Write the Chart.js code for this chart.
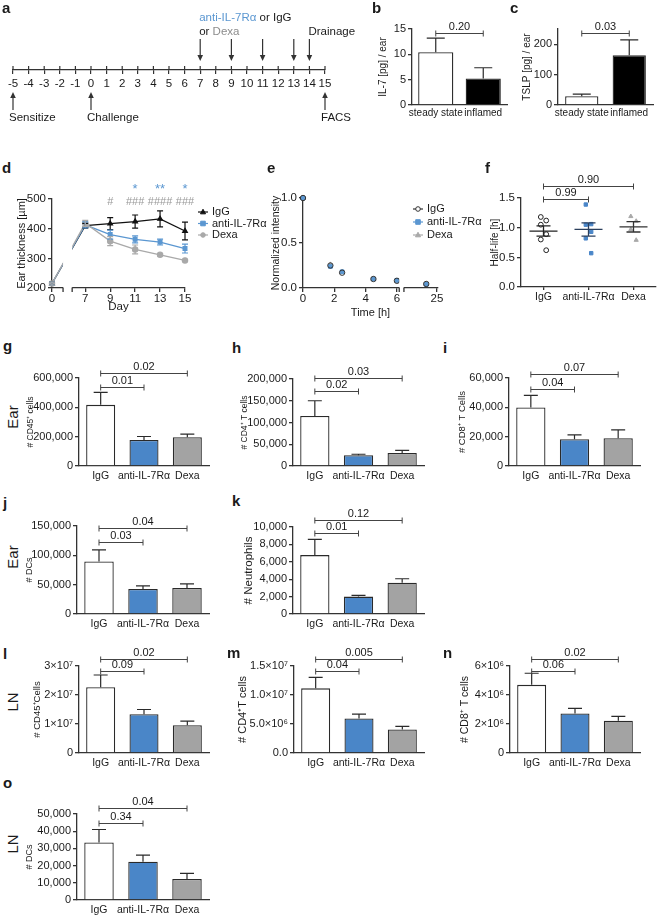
<!DOCTYPE html>
<html>
<head>
<meta charset="utf-8">
<script src="https://cdn.jsdelivr.net/npm/chart.js@4.4.1/dist/chart.umd.min.js"></script>
<style>
  body { margin: 0; background: #fff; width: 658px; height: 916px; position: relative; overflow: hidden;
         font-family: 'Liberation Sans', Arial, Helvetica, sans-serif; color: #1a1a1a; }
  .letter { position: absolute; font-weight: bold; font-size: 15px; line-height: 15px; }
  .row { position: absolute; font-size: 15px; white-space: nowrap; transform: translate(-50%, -50%) rotate(-90deg); }
</style>
</head>
<body>
<script>
// ---- data ----
// a: protocol
const treatDays = [7, 9, 11, 13];
const drainDay = 14;
const eventDays = [-5, 0, 15];
const eventNames = ['Sensitize', 'Challenge', 'FACS'];

// b, c: cytokines per ear
const ssGroups = ['steady state', 'inflamed'];
const il7Mean = [10.4, 5.25];
const il7Sem = [2.8, 2.1];
const il7P = ['0.20'];
const tslpMean = [29, 164];
const tslpSem = [7, 50];
const tslpP = ['0.03'];

// d: ear thickness
const earDays = [0, 7, 9, 11, 13, 15];
const earIgG = [215, 410, 417, 424, 433, 392];
const earIgGSem = [5, 8, 20, 22, 27, 30];
const earAnti = [215, 413, 380, 364, 355, 333];
const earAntiSem = [5, 10, 15, 12, 10, 15];
const earDexa = [215, 418, 358, 330, 312, 293];
const earDexaSem = [5, 10, 15, 15, 4, 3];
const earStars = ['', '', '', '*', '**', '*'];
const earHash = ['', '', '#', '###', '####', '###'];

// e: normalized intensity
const hours = [0, 1.75, 2.5, 4.5, 6, 24];
const hourTicks = [0, 2, 4, 6, 25];
const intIgG = [1.0, 0.25, 0.17, 0.10, 0.08, 0.045];
const intAnti = [1.0, 0.24, 0.18, 0.10, 0.085, 0.04];
const intDexa = [1.0, 0.26, 0.18, 0.10, 0.08, 0.045];

// f: half-life
const groups = ['IgG', 'anti-IL-7Rα', 'Dexa'];
const hlIgG = [1.18, 1.12, 1.05, 0.89, 0.80, 0.62];
const hlAnti = [1.39, 1.06, 1.05, 0.93, 0.82, 0.57];
const hlDexa = [1.19, 1.11, 0.97, 0.79];
const hlP = ['0.99', '0.90'];

// g-o: cell counts
const cd45Ear = [417000, 178000, 196000], cd45EarSem = [85000, 23000, 21000], cd45EarP = ['0.01', '0.02'];
const cd4Ear = [115000, 24700, 30100], cd4EarSem = [35000, 2300, 6000], cd4EarP = ['0.02', '0.03'];
const cd8Ear = [39900, 18250, 18900], cd8EarSem = [8200, 3000, 5700], cd8EarP = ['0.04', '0.07'];
const dcEar = [89400, 42500, 44200], dcEarSem = [19800, 5600, 7300], dcEarP = ['0.03', '0.04'];
const neuEar = [6770, 2000, 3600], neuEarSem = [1800, 150, 450], neuEarP = ['0.01', '0.12'];
const cd45LN = [2.27e7, 1.34e7, 0.96e7], cd45LNSem = [0.42e7, 0.16e7, 0.14e7], cd45LNP = ['0.09', '0.02'];
const cd4LN = [1.115e7, 5.95e6, 4.05e6], cd4LNSem = [1.9e6, 0.75e6, 0.55e6], cd4LNP = ['0.04', '0.005'];
const cd8LN = [4.7e6, 2.73e6, 2.22e6], cd8LNSem = [0.8e6, 0.35e6, 0.3e6], cd8LNP = ['0.06', '0.02'];
const dcLN = [33400, 22200, 12200], dcLNSem = [7600, 3900, 3300], dcLNP = ['0.34', '0.04'];

// ---- style ----
const AX = '#333', TXT = '#1a1a1a';
const BLUE = '#4a86c8', GREY = '#a3a3a3', LBLUE = '#5b97d1', LGREY = '#a9a9a9';
const FONT = "'Liberation Sans', Arial, Helvetica, sans-serif";
Chart.defaults.font.family = FONT;
Chart.defaults.font.size = 11;
Chart.defaults.color = TXT;

// broken axes
const dayPos = d => d >= 7 ? d : 4.333 + d * 0.1;
const hourPos = h => h <= 6 ? h : 6.51 + (h - 22) * 0.683;
const commas = v => String(v).replace(/\B(?=(\d{3})+(?!\d))/g, ',');

// ---- plugins ----
const errPlugin = {
  id: 'errbars',
  afterDatasetsDraw(chart, args, o) {
    const ctx = chart.ctx, y = chart.scales.y;
    chart.data.datasets.forEach((ds, di) => {
      if (!ds.sem) return;
      const meta = chart.getDatasetMeta(di);
      ctx.save();
      ctx.strokeStyle = ds.errColor || ds.borderColor;
      ctx.lineWidth = 1.2;
      meta.data.forEach((el, i) => {
        const v = typeof ds.data[i] === 'object' ? ds.data[i].y : ds.data[i];
        const top = y.getPixelForValue(v + ds.sem[i]);
        const bot = o.both ? y.getPixelForValue(v - ds.sem[i]) : el.y;
        const cw = o.cap || 7;
        ctx.beginPath();
        ctx.moveTo(el.x, bot); ctx.lineTo(el.x, top);
        ctx.moveTo(el.x - cw, top); ctx.lineTo(el.x + cw, top);
        if (o.both) { ctx.moveTo(el.x - cw, bot); ctx.lineTo(el.x + cw, bot); }
        ctx.stroke();
      });
      ctx.restore();
    });
  }
};

const bracketPlugin = {
  id: 'brackets',
  afterDraw(chart, args, o) {
    const ctx = chart.ctx, x = chart.scales.x, top = chart.chartArea.top;
    ctx.save();
    ctx.strokeStyle = '#444'; ctx.fillStyle = TXT; ctx.lineWidth = 1;
    ctx.font = '11px ' + FONT; ctx.textAlign = 'center'; ctx.textBaseline = 'middle';
    (o.items || []).forEach(it => {
      const xa = x.getPixelForValue(it.a), xb = x.getPixelForValue(it.b), yy = Math.round(top + it.dy) + 0.5;
      ctx.beginPath();
      ctx.moveTo(xa, yy); ctx.lineTo(xb, yy);
      ctx.moveTo(xa, yy - 3); ctx.lineTo(xa, yy + 3);
      ctx.moveTo(xb, yy - 3); ctx.lineTo(xb, yy + 3);
      ctx.stroke();
      ctx.fillText(it.text, (xa + xb) / 2, yy - 7);
    });
    ctx.restore();
  }
};

const breakPlugin = {
  id: 'xbreak',
  afterDatasetsDraw(chart, args, o) {
    if (o.from === undefined) return;
    const ctx = chart.ctx, x = chart.scales.x, ca = chart.chartArea;
    const a = x.getPixelForValue(o.from), b = x.getPixelForValue(o.to);
    ctx.save();
    ctx.fillStyle = '#fff';
    ctx.fillRect(a, ca.top, b - a, ca.bottom - ca.top + 2);
    ctx.strokeStyle = AX; ctx.lineWidth = 1.3;
    ctx.beginPath();
    [a, b].forEach(p => { ctx.moveTo(p, ca.bottom - 0.5); ctx.lineTo(p, ca.bottom + 4); });
    ctx.stroke();
    ctx.restore();
  }
};

const marksPlugin = {
  id: 'marks',
  afterDraw(chart, args, o) {
    const ctx = chart.ctx, x = chart.scales.x, top = chart.chartArea.top;
    ctx.save();
    ctx.textAlign = 'center'; ctx.textBaseline = 'middle';
    (o.rows || []).forEach(r => {
      ctx.fillStyle = r.color;
      ctx.font = r.size + 'px ' + FONT;
      r.texts.forEach((t, i) => { if (t) ctx.fillText(t, x.getPixelForValue(o.xs[i]), top + r.dy); });
    });
    ctx.restore();
  }
};

function marker(ctx, style, cx, cy, r, fill, stroke) {
  ctx.beginPath();
  if (style === 'rect') ctx.rect(cx - r, cy - r, 2 * r, 2 * r);
  else if (style === 'triangle') { ctx.moveTo(cx, cy - r * 1.2); ctx.lineTo(cx + r * 1.1, cy + r * 0.8); ctx.lineTo(cx - r * 1.1, cy + r * 0.8); ctx.closePath(); }
  else ctx.arc(cx, cy, r, 0, Math.PI * 2);
  ctx.fillStyle = fill; ctx.fill();
  ctx.strokeStyle = stroke; ctx.lineWidth = 1; ctx.stroke();
}

const legendPlugin = {
  id: 'lineLegend',
  afterDraw(chart, args, o) {
    if (o.dx === undefined) return;
    const ctx = chart.ctx, ca = chart.chartArea;
    ctx.save();
    ctx.font = '11px ' + FONT; ctx.textBaseline = 'middle'; ctx.textAlign = 'left';
    chart.data.datasets.forEach((ds, i) => {
      const x0 = ca.left + o.dx, y = ca.top + o.dy + i * o.step;
      ctx.strokeStyle = ds.borderColor; ctx.lineWidth = 1.2;
      ctx.beginPath(); ctx.moveTo(x0, y); ctx.lineTo(x0 + 10, y); ctx.stroke();
      marker(ctx, ds.pointStyle, x0 + 5, y, 2.3, ds.legendFill || ds.pointBackgroundColor, ds.borderColor);
      ctx.fillStyle = TXT;
      ctx.fillText(ds.label, x0 + 14, y);
    });
    ctx.restore();
  }
};

const meanPlugin = {
  id: 'meanSem',
  afterDatasetsDraw(chart) {
    const ctx = chart.ctx, x = chart.scales.x, y = chart.scales.y;
    chart.data.datasets.forEach((ds, gi) => {
      const v = ds.data.map(p => p.y), n = v.length;
      const m = v.reduce((a, b) => a + b, 0) / n;
      const se = Math.sqrt(v.reduce((a, b) => a + (b - m) ** 2, 0) / (n - 1)) / Math.sqrt(n);
      const px = x.getPixelForValue(gi);
      const ym = y.getPixelForValue(m), yt = y.getPixelForValue(m + se), yb = y.getPixelForValue(m - se);
      ctx.save();
      ctx.strokeStyle = ds.meanColor; ctx.lineWidth = 1.3;
      ctx.beginPath();
      ctx.moveTo(px - 14, ym); ctx.lineTo(px + 14, ym);
      ctx.moveTo(px, yt); ctx.lineTo(px, yb);
      ctx.moveTo(px - 7, yt); ctx.lineTo(px + 7, yt);
      ctx.moveTo(px - 7, yb); ctx.lineTo(px + 7, yb);
      ctx.stroke();
      ctx.restore();
    });
  }
};

const timelinePlugin = {
  id: 'timeline',
  afterDraw(chart) {
    const ctx = chart.ctx, x = chart.scales.x, base = chart.chartArea.bottom;
    ctx.save();
    ctx.strokeStyle = AX; ctx.fillStyle = AX; ctx.lineWidth = 1.2;
    x.ticks.forEach(t => {
      const p = x.getPixelForValue(t.value);
      ctx.beginPath(); ctx.moveTo(p, base); ctx.lineTo(p, base - 4); ctx.stroke();
    });
    const arrow = (p, from, tip) => {
      const dir = tip > from ? 1 : -1;
      ctx.beginPath(); ctx.moveTo(p, from); ctx.lineTo(p, tip - dir * 5); ctx.stroke();
      ctx.beginPath(); ctx.moveTo(p, tip); ctx.lineTo(p - 2.8, tip - dir * 6); ctx.lineTo(p + 2.8, tip - dir * 6); ctx.closePath(); ctx.fill();
    };
    treatDays.concat([drainDay]).forEach(d => arrow(x.getPixelForValue(d), base - 31, base - 9));
    ctx.font = '11.5px ' + FONT; ctx.textBaseline = 'middle'; ctx.textAlign = 'left';
    eventDays.forEach((d, i) => {
      const p = x.getPixelForValue(d);
      arrow(p, base + 40, base + 22);
      ctx.fillStyle = TXT;
      ctx.fillText(eventNames[i], p - 4, base + 48);
      ctx.fillStyle = AX;
    });
    const p7 = x.getPixelForValue(treatDays[0]) - 1;
    let s = 'anti-IL-7Rα';
    ctx.fillStyle = LBLUE; ctx.fillText(s, p7, base - 52);
    ctx.fillStyle = TXT; ctx.fillText(' or IgG', p7 + ctx.measureText(s).width, base - 52);
    s = 'or ';
    ctx.fillText(s, p7, base - 38);
    ctx.fillStyle = '#8c8c8c'; ctx.fillText('Dexa', p7 + ctx.measureText(s).width, base - 38);
    ctx.fillStyle = TXT; ctx.fillText('Drainage', x.getPixelForValue(drainDay) - 1, base - 38);
    ctx.restore();
  }
};

// ---- helpers ----
function mk(b, cfg) {
  const pl = b.pl || 0;
  const w = Math.round(b.x1 - b.x0 + b.yw + b.pr + pl);
  const h = Math.round(b.y1 - b.y0 + b.pt + b.xh);
  const c = document.createElement('canvas');
  c.width = w; c.height = h;
  c.style.cssText = `position:absolute;left:${b.x0 - b.yw - pl}px;top:${b.y0 - b.pt}px;width:${w}px;height:${h}px`;
  document.body.appendChild(c);
  const o = cfg.options;
  o.responsive = false; o.animation = false; o.devicePixelRatio = 1;
  o.layout = { autoPadding: false, padding: { top: b.pt, right: b.pr, left: pl, bottom: 0 } };
  if (o.scales.y.display !== false) o.scales.y.afterFit = s => { s.width = b.yw; s.paddingTop = 0; s.paddingBottom = 0; };
  o.scales.x.afterFit = s => { s.height = b.xh; s.paddingLeft = 0; s.paddingRight = 0; };
  o.plugins = Object.assign({ legend: { display: false }, tooltip: { enabled: false } }, o.plugins || {});
  return new Chart(c, cfg);
}

const yAxis = (max, step, title, ts, fmt) => ({
  min: 0, max: max,
  ticks: { stepSize: step, callback: fmt || commas, color: TXT, font: { size: 11 }, padding: 2 },
  grid: { drawOnChartArea: false, tickLength: 4, color: AX, lineWidth: 1.3 },
  border: { color: AX, width: 1.3 },
  title: { display: true, text: title, font: { size: ts }, padding: 0, color: TXT }
});

function barChart(b, o) {
  return mk(b, {
    type: 'bar',
    data: { labels: o.labels, datasets: [{
      data: o.mean, sem: o.sem, backgroundColor: o.fill, borderColor: '#2a2a2a', errColor: '#2a2a2a',
      borderWidth: 1.3, barPercentage: o.bp || 0.67, categoryPercentage: 1
    }] },
    options: {
      scales: {
        x: { grid: { display: false, drawTicks: false, tickLength: 0 }, border: { color: AX, width: 1.3 },
             ticks: { color: TXT, font: { size: o.xs || 10.5 }, padding: o.xpad || 4, maxRotation: 0, autoSkip: false } },
        y: yAxis(o.max, o.step, o.title, o.ts || 9, o.fmt)
      },
      plugins: { errbars: { cap: o.cap || 7 }, brackets: { items: o.brackets } }
    },
    plugins: [errPlugin, bracketPlugin]
  });
}

const pairs = (p, dyLow, dyHigh) => [{ a: 0, b: 1, dy: dyLow, text: p[0] }, { a: 0, b: 2, dy: dyHigh, text: p[1] }];
const triFill = ['#fff', BLUE, GREY];

// ---- a ----
mk({ x0: 12.7, x1: 325, y0: 10, y1: 70, yw: 0, pl: 10, pt: 10, pr: 32, xh: 55 }, {
  type: 'line',
  data: { datasets: [{ data: [] }] },
  options: {
    scales: {
      x: { type: 'linear', min: -5, max: 15,
           ticks: { stepSize: 1, font: { size: 11.5 }, padding: 3, color: TXT, autoSkip: false, maxRotation: 0 },
           grid: { drawOnChartArea: false, tickLength: 4, color: AX, lineWidth: 1.2 }, border: { color: AX, width: 1.2 } },
      y: { display: false }
    }
  },
  plugins: [timelinePlugin]
});

// ---- b, c ----
barChart({ x0: 412, x1: 507, y0: 29, y1: 105, yw: 35, pt: 14, pr: 4, xh: 18 }, {
  labels: ssGroups, mean: il7Mean, sem: il7Sem, fill: ['#fff', '#000'], bp: 0.74, cap: 9, xs: 10,
  max: 15, step: 5, title: 'IL-7 [pg] / ear', ts: 10, xpad: 2,
  brackets: [{ a: 0, b: 1, dy: 4, text: il7P[0] }]
});
barChart({ x0: 558, x1: 653, y0: 29, y1: 105, yw: 37, pt: 14, pr: 4, xh: 18 }, {
  labels: ssGroups, mean: tslpMean, sem: tslpSem, fill: ['#fff', '#000'], bp: 0.7, cap: 9, xs: 10,
  max: 250, step: 50, title: 'TSLP [pg] / ear', ts: 10, xpad: 2,
  brackets: [{ a: 0, b: 1, dy: 4, text: tslpP[0] }]
});

// ---- d ----
const earSeries = [
  { label: 'IgG', v: earIgG, e: earIgGSem, c: '#111', ps: 'triangle', order: 2 },
  { label: 'anti-IL-7Rα', v: earAnti, e: earAntiSem, c: LBLUE, ps: 'rect', order: 1 },
  { label: 'Dexa', v: earDexa, e: earDexaSem, c: LGREY, ps: 'circle', order: 0 }
];
mk({ x0: 52, x1: 185, y0: 199, y1: 288, yw: 37, pt: 24, pr: 90, xh: 26 }, {
  type: 'line',
  data: { datasets: earSeries.map(s => ({
    label: s.label, data: earDays.map((d, i) => ({ x: dayPos(d), y: s.v[i] })), sem: s.e,
    borderColor: s.c, backgroundColor: s.c, pointBackgroundColor: s.c, pointBorderColor: s.c,
    pointStyle: s.ps, pointRadius: 2.6, borderWidth: 1.3, order: s.order, clip: false
  })) },
  options: {
    scales: {
      x: { type: 'linear', min: dayPos(0), max: 15,
           afterBuildTicks: s => { s.ticks = earDays.map(d => ({ value: dayPos(d) })); },
           ticks: { callback: (v, i) => earDays[i], color: TXT, font: { size: 11.5 }, padding: 0, autoSkip: false, maxRotation: 0 },
           grid: { drawOnChartArea: false, tickLength: 4, color: AX, lineWidth: 1.3 }, border: { color: AX, width: 1.3 },
           title: { display: true, text: 'Day', font: { size: 11.5 }, padding: 0, color: TXT } },
      y: { min: 200, max: 500, ticks: { stepSize: 50, color: TXT, font: { size: 11.5 }, padding: 2 },
           grid: { drawOnChartArea: false, tickLength: 4, color: AX, lineWidth: 1.3 }, border: { color: AX, width: 1.3 },
           title: { display: true, text: 'Ear thickness [µm]', font: { size: 11 }, padding: 0, color: TXT } }
    },
    plugins: {
      errbars: { both: true, cap: 3 },
      xbreak: { from: 5.22, to: 5.95 },
      marks: { xs: earDays.map(dayPos), rows: [{ texts: earStars, color: LBLUE, dy: -10, size: 13 }, { texts: earHash, color: '#999', dy: 3, size: 11 }] },
      lineLegend: { dx: 146, dy: 13, step: 11.5 }
    }
  },
  plugins: [errPlugin, breakPlugin, marksPlugin, legendPlugin]
});

// ---- e ----
const intSeries = [
  { label: 'IgG', v: intIgG, c: '#333', f: 'rgba(255,255,255,0)', lf: '#fff', ps: 'circle', order: 0 },
  { label: 'anti-IL-7Rα', v: intAnti, c: LBLUE, f: LBLUE, ps: 'rect', order: 1 },
  { label: 'Dexa', v: intDexa, c: LGREY, f: LGREY, ps: 'triangle', order: 2 }
];
mk({ x0: 303, x1: 438, y0: 198, y1: 288, yw: 33, pt: 10, pr: 48, xh: 32 }, {
  type: 'scatter',
  data: { datasets: intSeries.map(s => ({
    label: s.label, data: hours.map((h, i) => ({ x: hourPos(h), y: s.v[i] })),
    borderColor: s.c, backgroundColor: s.f, pointBackgroundColor: s.f, pointBorderColor: s.c, legendFill: s.lf,
    pointStyle: s.ps, pointRadius: 2.7, borderWidth: 1, order: s.order, clip: false
  })) },
  options: {
    scales: {
      x: { type: 'linear', min: 0, max: hourPos(25.1),
           afterBuildTicks: s => { s.ticks = hourTicks.map(h => ({ value: hourPos(h) })); },
           ticks: { callback: (v, i) => hourTicks[i], color: TXT, font: { size: 11.5 }, padding: 0, autoSkip: false, maxRotation: 0 },
           grid: { drawOnChartArea: false, tickLength: 4, color: AX, lineWidth: 1.3 }, border: { color: AX, width: 1.3 },
           title: { display: true, text: 'Time [h]', font: { size: 11 }, padding: 0, color: TXT } },
      y: { min: 0, max: 1, ticks: { stepSize: 0.5, callback: v => v.toFixed(1), color: TXT, font: { size: 11.5 }, padding: 2 },
           grid: { drawOnChartArea: false, tickLength: 4, color: AX, lineWidth: 1.3 }, border: { color: AX, width: 1.3 },
           title: { display: true, text: 'Normalized intensity', font: { size: 10.5 }, padding: 0, color: TXT } }
    },
    plugins: { xbreak: { from: 6.15, to: 6.45 }, lineLegend: { dx: 110, dy: 11, step: 13 } }
  },
  plugins: [breakPlugin, legendPlugin]
});

// ---- f ----
const hlSeries = [
  { v: hlIgG, c: '#222', f: '#fff', ps: 'circle', m: '#222' },
  { v: hlAnti, c: BLUE, f: BLUE, ps: 'rect', m: '#2b3f5c' },
  { v: hlDexa, c: LGREY, f: LGREY, ps: 'triangle', m: '#333' }
];
mk({ x0: 521, x1: 656, y0: 198, y1: 287, yw: 32, pt: 28, pr: 2, xh: 22 }, {
  type: 'scatter',
  data: { datasets: hlSeries.map((s, gi) => ({
    data: s.v.map((v, i) => ({ x: gi + ((i % 2) * 2 - 1) * 0.06, y: v })),
    borderColor: s.c, backgroundColor: s.f, pointBackgroundColor: s.f, pointBorderColor: s.c,
    pointStyle: s.ps, pointRadius: 2.4, borderWidth: 1, meanColor: s.m
  })) },
  options: {
    scales: {
      x: { type: 'linear', min: -0.5, max: 2.5,
           afterBuildTicks: s => { s.ticks = groups.map((g, i) => ({ value: i })); },
           ticks: { callback: (v, i) => groups[i], color: TXT, font: { size: 10.5 }, padding: 1, autoSkip: false, maxRotation: 0 },
           grid: { drawOnChartArea: false, tickLength: 3, color: AX, lineWidth: 1.3 }, border: { color: AX, width: 1.3 } },
      y: { min: 0, max: 1.5, ticks: { stepSize: 0.5, callback: v => v.toFixed(1), color: TXT, font: { size: 11.5 }, padding: 2 },
           grid: { drawOnChartArea: false, tickLength: 4, color: AX, lineWidth: 1.3 }, border: { color: AX, width: 1.3 },
           title: { display: true, text: 'Half-life [h]', font: { size: 10 }, padding: 0, color: TXT } }
    },
    plugins: { brackets: { items: [{ a: 0, b: 1, dy: 1, text: hlP[0] }, { a: 0, b: 2, dy: -12, text: hlP[1] }] } }
  },
  plugins: [meanPlugin, bracketPlugin]
});

// ---- g - o ----
const sci7 = v => v === 0 ? '0' : (v / 1e7) + '×10⁷';
const sciM = v => v === 0 ? '0.0' : v >= 1e7 ? (v / 1e7).toFixed(1) + '×10⁷' : (v / 1e6).toFixed(1) + '×10⁶';
const sci6 = v => v === 0 ? '0' : (v / 1e6) + '×10⁶';

barChart({ x0: 79, x1: 209, y0: 378, y1: 466, yw: 53, pt: 20, pr: 4, xh: 20 }, {
  labels: groups, mean: cd45Ear, sem: cd45EarSem, fill: triFill, max: 600000, step: 200000,
  title: '# CD45⁺ cells', ts: 8.5, brackets: pairs(cd45EarP, 9, -5)
});
barChart({ x0: 293, x1: 424, y0: 379, y1: 466, yw: 53, pt: 20, pr: 4, xh: 20 }, {
  labels: groups, mean: cd4Ear, sem: cd4EarSem, fill: triFill, max: 200000, step: 50000,
  title: '# CD4⁺ T cells', ts: 8.5, brackets: pairs(cd4EarP, 12, -1)
});
barChart({ x0: 509, x1: 640, y0: 378, y1: 466, yw: 52, pt: 20, pr: 4, xh: 20 }, {
  labels: groups, mean: cd8Ear, sem: cd8EarSem, fill: triFill, max: 60000, step: 20000,
  title: '# CD8⁺ T Cells', ts: 9.5, brackets: pairs(cd8EarP, 11, -4)
});
barChart({ x0: 77, x1: 209, y0: 526, y1: 614, yw: 53, pt: 20, pr: 4, xh: 20 }, {
  labels: groups, mean: dcEar, sem: dcEarSem, fill: triFill, max: 150000, step: 50000,
  title: '# DCs', ts: 9, brackets: pairs(dcEarP, 16, 2)
});
barChart({ x0: 293, x1: 424, y0: 527, y1: 614, yw: 51, pt: 24, pr: 4, xh: 20 }, {
  labels: groups, mean: neuEar, sem: neuEarSem, fill: triFill, max: 10000, step: 2000,
  title: '# Neutrophils', ts: 11.5, brackets: pairs(neuEarP, 6, -7)
});
barChart({ x0: 79, x1: 209, y0: 666, y1: 753, yw: 47, pt: 22, pr: 4, xh: 20 }, {
  labels: groups, mean: cd45LN, sem: cd45LNSem, fill: triFill, max: 3e7, step: 1e7, fmt: sci7,
  title: '# CD45⁺Cells', ts: 9.5, brackets: pairs(cd45LNP, 5, -7)
});
barChart({ x0: 294, x1: 424, y0: 666, y1: 753, yw: 58, pt: 22, pr: 4, xh: 20 }, {
  labels: groups, mean: cd4LN, sem: cd4LNSem, fill: triFill, max: 1.5e7, step: 5e6, fmt: sciM,
  title: '# CD4⁺T cells', ts: 11, brackets: pairs(cd4LNP, 5, -7)
});
barChart({ x0: 510, x1: 640, y0: 666, y1: 753, yw: 51, pt: 22, pr: 4, xh: 20 }, {
  labels: groups, mean: cd8LN, sem: cd8LNSem, fill: triFill, max: 6e6, step: 2e6, fmt: sci6,
  title: '# CD8⁺ T cells', ts: 10.5, brackets: pairs(cd8LNP, 5, -7)
});
barChart({ x0: 77, x1: 209, y0: 814, y1: 900, yw: 53, pt: 22, pr: 4, xh: 16 }, {
  labels: groups, mean: dcLN, sem: dcLNSem, fill: triFill, max: 50000, step: 10000,
  title: '# DCs', ts: 9, brackets: pairs(dcLNP, 9, -6)
});

// ---- panel letters and row labels ----
function letter(s, x, base) {
  const d = document.createElement('div');
  d.className = 'letter'; d.textContent = s;
  d.style.left = x + 'px'; d.style.top = (base - 12) + 'px';
  document.body.appendChild(d);
}
[['a', 2, 12], ['b', 372, 12], ['c', 510, 12], ['d', 2, 172], ['e', 267, 172], ['f', 485, 172],
 ['g', 3, 350], ['h', 232, 352], ['i', 443, 352], ['j', 3, 507], ['k', 232, 505],
 ['l', 3, 658], ['m', 227, 657], ['n', 443, 657], ['o', 3, 787]].forEach(l => letter(l[0], l[1], l[2]));

function rowLabel(s, cx, cy) {
  const d = document.createElement('div');
  d.className = 'row'; d.textContent = s;
  d.style.left = cx + 'px'; d.style.top = cy + 'px';
  document.body.appendChild(d);
}
rowLabel('Ear', 12, 417);
rowLabel('Ear', 12, 557);
rowLabel('LN', 12, 702);
rowLabel('LN', 12, 844);
</script>
</body>
</html>
